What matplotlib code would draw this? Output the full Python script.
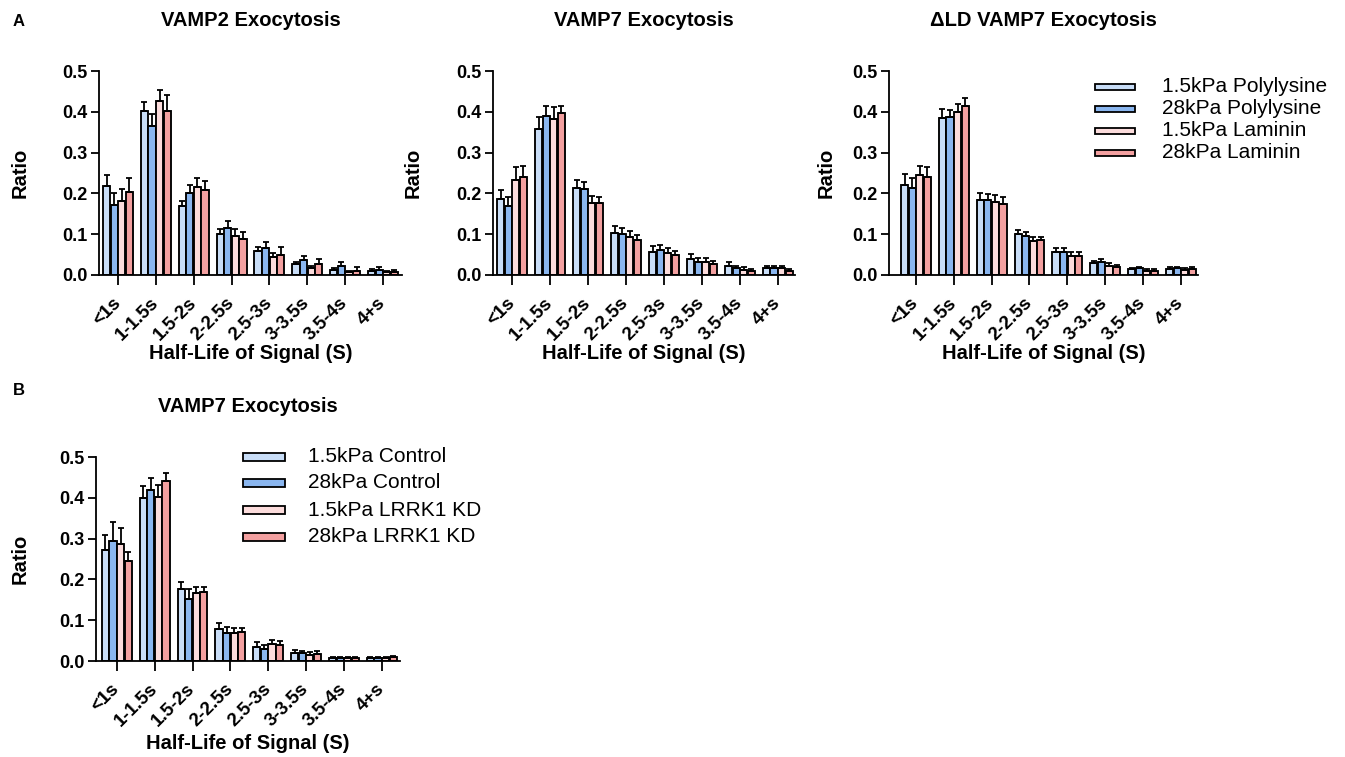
import numpy as np
import matplotlib
matplotlib.use("Agg")
import matplotlib.pyplot as plt
from matplotlib.patches import Rectangle

plt.rcParams['font.family'] = ['Liberation Sans', 'DejaVu Sans']

W, H = 1345, 757

categories = ['<1s', '1-1.5s', '1.5-2s', '2-2.5s', '2.5-3s', '3-3.5s', '3.5-4s', '4+s']
colors = ['#c8ddf7', '#8ab6ef', '#fcdcdc', '#f3a0a0']

# A, left: VAMP2
vamp2_soft_pl = [0.217, 0.402, 0.170, 0.100, 0.059, 0.026, 0.012, 0.011]
vamp2_soft_pl_err = [0.028, 0.023, 0.012, 0.013, 0.010, 0.007, 0.004, 0.004]
vamp2_stiff_pl = [0.172, 0.365, 0.201, 0.116, 0.067, 0.036, 0.022, 0.012]
vamp2_stiff_pl_err = [0.028, 0.029, 0.020, 0.017, 0.014, 0.011, 0.009, 0.008]
vamp2_soft_lam = [0.182, 0.426, 0.215, 0.096, 0.043, 0.016, 0.008, 0.007]
vamp2_soft_lam_err = [0.030, 0.027, 0.022, 0.017, 0.012, 0.007, 0.003, 0.004]
vamp2_stiff_lam = [0.203, 0.402, 0.208, 0.088, 0.050, 0.026, 0.011, 0.007]
vamp2_stiff_lam_err = [0.034, 0.038, 0.023, 0.017, 0.018, 0.013, 0.008, 0.005]

# A, middle: VAMP7
vamp7_soft_pl = [0.186, 0.359, 0.213, 0.103, 0.057, 0.039, 0.023, 0.017]
vamp7_soft_pl_err = [0.023, 0.028, 0.021, 0.017, 0.014, 0.013, 0.008, 0.006]
vamp7_stiff_pl = [0.168, 0.389, 0.211, 0.101, 0.061, 0.031, 0.016, 0.017]
vamp7_stiff_pl_err = [0.022, 0.026, 0.017, 0.015, 0.013, 0.010, 0.007, 0.006]
vamp7_soft_lam = [0.233, 0.382, 0.177, 0.093, 0.053, 0.031, 0.012, 0.016]
vamp7_soft_lam_err = [0.031, 0.029, 0.017, 0.016, 0.013, 0.010, 0.007, 0.006]
vamp7_stiff_lam = [0.239, 0.396, 0.176, 0.087, 0.050, 0.027, 0.011, 0.009]
vamp7_stiff_lam_err = [0.027, 0.018, 0.015, 0.011, 0.010, 0.007, 0.004, 0.005]

# A, right: delta LD VAMP7
dld_soft_pl = [0.221, 0.386, 0.185, 0.100, 0.057, 0.030, 0.014, 0.014]
dld_soft_pl_err = [0.027, 0.021, 0.015, 0.010, 0.008, 0.005, 0.004, 0.005]
dld_stiff_pl = [0.214, 0.388, 0.185, 0.096, 0.057, 0.033, 0.016, 0.016]
dld_stiff_pl_err = [0.023, 0.016, 0.014, 0.010, 0.008, 0.005, 0.004, 0.004]
dld_soft_lam = [0.245, 0.400, 0.180, 0.083, 0.047, 0.023, 0.011, 0.012]
dld_soft_lam_err = [0.022, 0.019, 0.016, 0.009, 0.009, 0.006, 0.003, 0.004]
dld_stiff_lam = [0.239, 0.413, 0.174, 0.085, 0.047, 0.020, 0.011, 0.015]
dld_stiff_lam_err = [0.025, 0.022, 0.016, 0.009, 0.009, 0.005, 0.003, 0.005]

# B: VAMP7, control vs LRRK1 KD
b_soft_ctrl = [0.272, 0.399, 0.176, 0.078, 0.035, 0.019, 0.008, 0.007]
b_soft_ctrl_err = [0.037, 0.029, 0.017, 0.014, 0.011, 0.008, 0.003, 0.003]
b_stiff_ctrl = [0.295, 0.420, 0.152, 0.068, 0.029, 0.019, 0.007, 0.007]
b_stiff_ctrl_err = [0.045, 0.028, 0.025, 0.015, 0.009, 0.006, 0.004, 0.003]
b_soft_kd = [0.287, 0.403, 0.166, 0.068, 0.041, 0.015, 0.008, 0.008]
b_soft_kd_err = [0.039, 0.029, 0.016, 0.012, 0.011, 0.006, 0.003, 0.003]
b_stiff_kd = [0.244, 0.440, 0.169, 0.070, 0.038, 0.017, 0.008, 0.009]
b_stiff_kd_err = [0.022, 0.022, 0.013, 0.012, 0.011, 0.007, 0.003, 0.004]

legend_a = ['1.5kPa Polylysine', '28kPa Polylysine', '1.5kPa Laminin', '28kPa Laminin']
legend_b = ['1.5kPa Control', '28kPa Control', '1.5kPa LRRK1 KD', '28kPa LRRK1 KD']

fig = plt.figure(figsize=(W / 100, H / 100), dpi=100)


def px_axes(left, right, top, bottom):
    # pixel box -> figure fraction
    return fig.add_axes([left / W, 1 - bottom / H, (right - left) / W, (bottom - top) / H])


def draw_panel(ax, series, errs, xlim):
    x = np.arange(len(categories))
    bw = 0.2
    for i, (vals, err) in enumerate(zip(series, errs)):
        pos = x + (i - 1.5) * bw
        ax.bar(pos, vals, width=bw * 0.95, color=colors[i], edgecolor='black',
               linewidth=1.35, zorder=2)
        ax.errorbar(pos, vals, yerr=[np.zeros(len(err)), err], fmt='none',
                    ecolor='black', elinewidth=1.3, capsize=2.2, capthick=1.3, zorder=3)
    ax.set_xlim(*xlim)
    ax.set_ylim(0, 0.5)
    ax.set_yticks(np.arange(0, 0.51, 0.1))
    ax.set_yticklabels([f'{v:.1f}' for v in np.arange(0, 0.51, 0.1)],
                       fontsize=13, fontweight='bold')
    ax.set_xticks(x)
    ax.set_xticklabels(categories, rotation=45, ha='right', va='center',
                       rotation_mode='anchor', fontsize=13.5, fontweight='bold')
    ax.tick_params(axis='x', length=7.5, width=1.3, pad=11)
    ax.tick_params(axis='y', length=6, width=1.3, pad=2)
    for s in ['top', 'right']:
        ax.spines[s].set_visible(False)
    for s in ['left', 'bottom']:
        ax.spines[s].set_linewidth(1.3)
    ax.set_facecolor('none')


def label_panel(ax, title, title_base, ratio_x, xlab_top):
    bb = ax.get_position()
    cx = bb.x0 + bb.width / 2
    fig.text(cx, 1 - title_base / H, title, ha='center', va='baseline',
             fontsize=14.5, fontweight='bold')
    fig.text(ratio_x / W, bb.y0 + bb.height / 2, 'Ratio', rotation=90, ha='center',
             va='center', fontsize=14.5, fontweight='bold')
    fig.text(cx, 1 - xlab_top / H, 'Half-Life of Signal (S)', ha='center', va='top',
             fontsize=14.5, fontweight='bold')


def draw_legend(labels, x0, tx, rows, w, h):
    for lab, col, y in zip(labels, colors, rows):
        fig.add_artist(Rectangle((x0 / W, 1 - (y + h / 2) / H), w / W, h / H,
                                 transform=fig.transFigure, facecolor=col,
                                 edgecolor='black', linewidth=1.3))
        fig.text(tx / W, 1 - y / H, lab, ha='left', va='center', fontsize=15)


ax1 = px_axes(99, 402, 71, 275)
draw_panel(ax1, [vamp2_soft_pl, vamp2_stiff_pl, vamp2_soft_lam, vamp2_stiff_lam],
           [vamp2_soft_pl_err, vamp2_stiff_pl_err, vamp2_soft_lam_err, vamp2_stiff_lam_err],
           (-0.5, 7.5))
label_panel(ax1, 'VAMP2 Exocytosis', 26, 20, 344)

ax2 = px_axes(493, 795, 71, 275)
draw_panel(ax2, [vamp7_soft_pl, vamp7_stiff_pl, vamp7_soft_lam, vamp7_stiff_lam],
           [vamp7_soft_pl_err, vamp7_stiff_pl_err, vamp7_soft_lam_err, vamp7_stiff_lam_err],
           (-0.5, 7.45))
label_panel(ax2, 'VAMP7 Exocytosis', 26, 413, 344)

ax3 = px_axes(889, 1198, 71, 275)
draw_panel(ax3, [dld_soft_pl, dld_stiff_pl, dld_soft_lam, dld_stiff_lam],
           [dld_soft_pl_err, dld_stiff_pl_err, dld_soft_lam_err, dld_stiff_lam_err],
           (-0.71, 7.45))
label_panel(ax3, '\u0394LD VAMP7 Exocytosis', 26, 826, 344)

ax4 = px_axes(96, 400, 457, 661)
draw_panel(ax4, [b_soft_ctrl, b_stiff_ctrl, b_soft_kd, b_stiff_kd],
           [b_soft_ctrl_err, b_stiff_ctrl_err, b_soft_kd_err, b_stiff_kd_err],
           (-0.55, 7.48))
label_panel(ax4, 'VAMP7 Exocytosis', 412, 20, 734)

draw_legend(legend_a, 1095, 1162, [87, 109, 131, 153], 40, 6)
draw_legend(legend_b, 243, 308, [457, 483, 510, 537], 42, 8)

fig.text(13 / W, 1 - 26 / H, 'A', ha='left', va='baseline', fontsize=12, fontweight='bold')
fig.text(13 / W, 1 - 395 / H, 'B', ha='left', va='baseline', fontsize=12, fontweight='bold')

fig.savefig('out.png', dpi=100)
